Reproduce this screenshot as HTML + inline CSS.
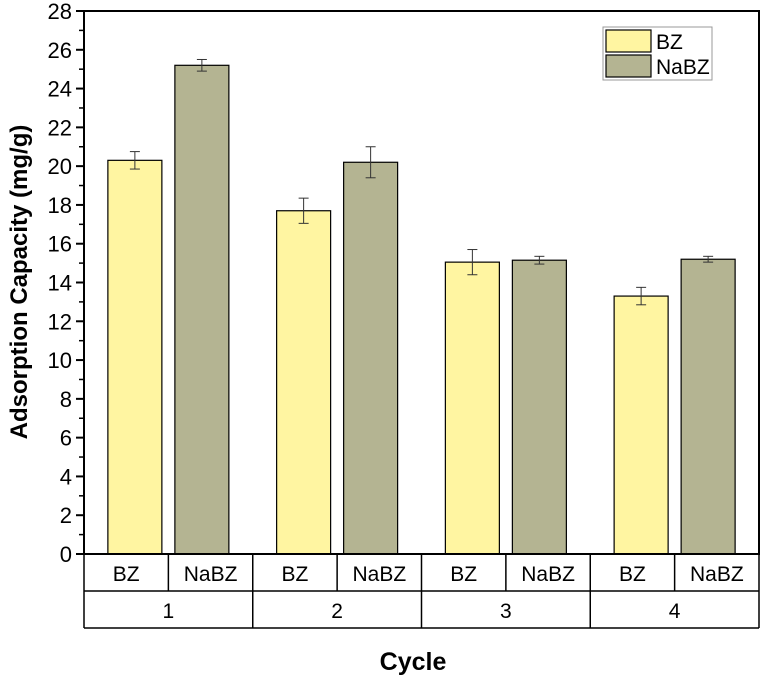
<!DOCTYPE html>
<html><head><meta charset="utf-8"><style>
body{margin:0;background:#fff}
svg{display:block;font-family:"Liberation Sans",Arial,sans-serif}
</style></head><body>
<svg id="chart" width="762" height="678" viewBox="0 0 762 678" xmlns="http://www.w3.org/2000/svg"></svg>
<script>
const cycles = ["1","2","3","4"];
const series = ["BZ","NaBZ"];
const bzValues = [20.3,17.7,15.05,13.3];
const bzErrors = [0.45,0.65,0.65,0.45];
const nabzValues = [25.2,20.2,15.15,15.2];
const nabzErrors = [0.3,0.8,0.2,0.15];
const yTicks = [0,2,4,6,8,10,12,14,16,18,20,22,24,26,28];

const NS="http://www.w3.org/2000/svg";
const svg=document.getElementById('chart');
const L=84,R=759,T=11,B=554,yMax=28;
const y=v=>B-(v/yMax)*(B-T);
const gw=(R-L)/cycles.length;
const gx=i=>L+gw*i;
function mk(tag,at,parent){const e=document.createElementNS(NS,tag);for(const k in at)e.setAttribute(k,at[k]);(parent||svg).appendChild(e);return e;}
const colors=["#fff5a1","#b4b492"];
const vals=[bzValues,nabzValues], errs=[bzErrors,nabzErrors];
const bw=54, off=[-33.5,33.5];
cycles.forEach((c,i)=>{
  vals.forEach((arr,s)=>{
    const cx=gx(i)+gw/2+off[s];
    const r=mk('rect',{x:cx-bw/2,y:y(arr[i]),width:bw,height:B-y(arr[i]),fill:colors[s],stroke:'#000','stroke-width':1.2});
    
    
    const e=errs[s][i];
    const g=mk('g',{stroke:'#333','stroke-width':1});
    
    
    mk('line',{x1:cx,x2:cx,y1:y(arr[i]+e),y2:y(arr[i]-e)},g);
    mk('line',{x1:cx-5,x2:cx+5,y1:y(arr[i]+e),y2:y(arr[i]+e)},g);
    mk('line',{x1:cx-5,x2:cx+5,y1:y(arr[i]-e),y2:y(arr[i]-e)},g);
  });
});
const fr=mk('rect',{x:L,y:T,width:R-L,height:B-T,fill:'none',stroke:'#000','stroke-width':2});


yTicks.forEach(v=>{
  mk('line',{x1:L-8,x2:L,y1:y(v),y2:y(v),stroke:'#000','stroke-width':2});
  if(v<yMax) mk('line',{x1:L-5,x2:L,y1:y(v+1),y2:y(v+1),stroke:'#000','stroke-width':1.5});
  const t=mk('text',{x:L-12,y:y(v)+8,'text-anchor':'end','font-size':22,fill:'#000'});
  t.textContent=v;
  
  
});
const r1=591,r2=628;
const tb=mk('g',{stroke:'#000','stroke-width':1.5,fill:'none'});


mk('line',{x1:L,x2:R,y1:r1,y2:r1},tb);
mk('line',{x1:L,x2:R,y1:r2,y2:r2},tb);
mk('line',{x1:L,x2:L,y1:B,y2:r2},tb);
mk('line',{x1:R,x2:R,y1:B,y2:r2},tb);
cycles.forEach((c,i)=>{
  if(i>0) mk('line',{x1:gx(i),x2:gx(i),y1:B,y2:r2},tb);
  mk('line',{x1:gx(i)+gw/2,x2:gx(i)+gw/2,y1:B,y2:r1},tb);
  series.forEach((s,k)=>{
    const t=mk('text',{x:gx(i)+gw/4+k*gw/2,y:581,'text-anchor':'middle','font-size':21});
    t.textContent=s;
    
    
  });
  const t=mk('text',{x:gx(i)+gw/2,y:618,'text-anchor':'middle','font-size':21});
  t.textContent=c;
  
  
});
const xt=mk('text',{x:413,y:670,'text-anchor':'middle','font-size':25,'font-weight':'bold'});
xt.textContent='Cycle';


const yt=mk('text',{x:0,y:0,'text-anchor':'middle','font-size':24,'font-weight':'bold',transform:'translate(27,282) rotate(-90)'});
yt.textContent='Adsorption Capacity (mg/g)';


const lg=mk('g',{});


mk('rect',{x:603,y:27,width:109,height:53,fill:'#fff',stroke:'#999','stroke-width':1},lg);
series.forEach((s,k)=>{
  const sw=mk('rect',{x:606,y:30+k*25,width:45,height:22,fill:colors[k],stroke:'#000','stroke-width':1.2},lg);
  
  
  const t=mk('text',{x:656,y:49+k*25,'font-size':21},lg);
  t.textContent=s;
  
  
});
</script>
</body></html>
